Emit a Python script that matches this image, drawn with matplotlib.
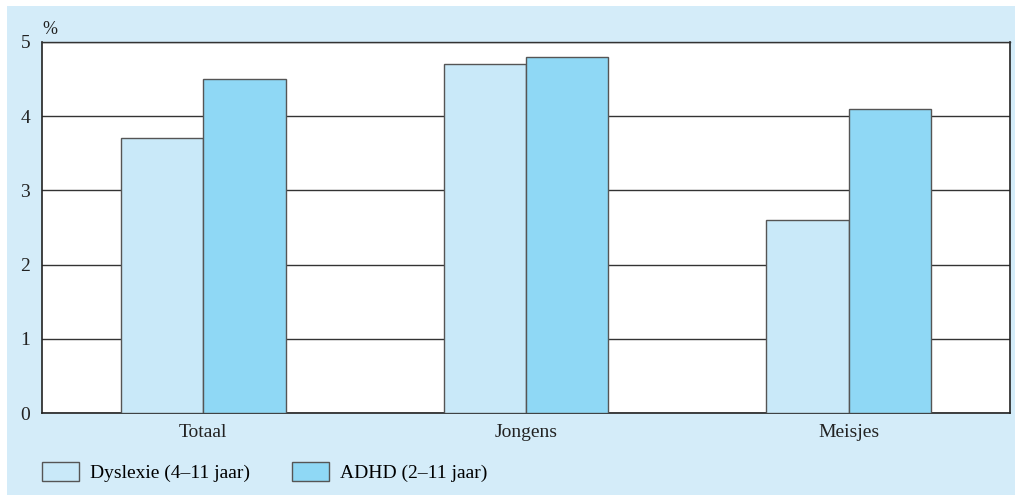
import numpy as np
import matplotlib.pyplot as plt
from matplotlib.patches import Rectangle

categories = ["Totaal", "Jongens", "Meisjes"]
dyslexie = [3.7, 4.7, 2.6]
adhd = [4.5, 4.8, 4.1]
series_labels = ["Dyslexie (4\u201311 jaar)", "ADHD (2\u201311 jaar)"]
yticks = [0, 1, 2, 3, 4, 5]

plt.rcParams['font.family'] = ['Liberation Serif', 'DejaVu Serif']

fig = plt.figure(figsize=(10.15, 4.95), dpi=100)
fig.patch.set_facecolor('white')

# light blue panel behind everything
fig.patches.append(Rectangle((7 / 1015, 0), 1 - 7 / 1015, 1 - 6 / 495,
                             transform=fig.transFigure, facecolor='#d4ecf9',
                             edgecolor='none', zorder=-10))

ax = fig.add_axes([42 / 1015, 82 / 495, 968 / 1015, 371 / 495])
ax.set_facecolor('white')

x = np.arange(len(categories))
w = 0.255
b1 = ax.bar(x - w / 2, dyslexie, w, color='#c9e9f9', edgecolor='#555555',
            linewidth=1, zorder=3, label=series_labels[0])
b2 = ax.bar(x + w / 2, adhd, w, color='#8fd8f5', edgecolor='#555555',
            linewidth=1, zorder=3, label=series_labels[1])

ax.set_xlim(-0.5, 2.5)
ax.set_ylim(0, 5)
ax.set_yticks(yticks)
ax.set_xticks(x)
ax.set_xticklabels(categories)
ax.yaxis.grid(True, color='#333333', linewidth=1, zorder=1)
ax.tick_params(length=0, labelsize=14, colors='#222222')
ax.tick_params(axis='y', pad=8.5)
ax.tick_params(axis='x', pad=8)
for s in ax.spines.values():
    s.set_color('#222222')
    s.set_linewidth(1.2)
ax.spines['top'].set_color('#333333')
ax.spines['top'].set_linewidth(1)

ax.text(0.0, 1.01, "%", transform=ax.transAxes, fontsize=13, color='#222222',
        ha='left', va='bottom')

fig.legend(handles=[b1, b2], labels=series_labels, loc='lower left',
           bbox_to_anchor=(42 / 1015, 13 / 495), ncol=2, frameon=False,
           fontsize=14, handlelength=1.9, handleheight=1.13,
           columnspacing=2.15, handletextpad=0.57, borderpad=0,
           borderaxespad=0)

fig.savefig("out.png", dpi=100)
